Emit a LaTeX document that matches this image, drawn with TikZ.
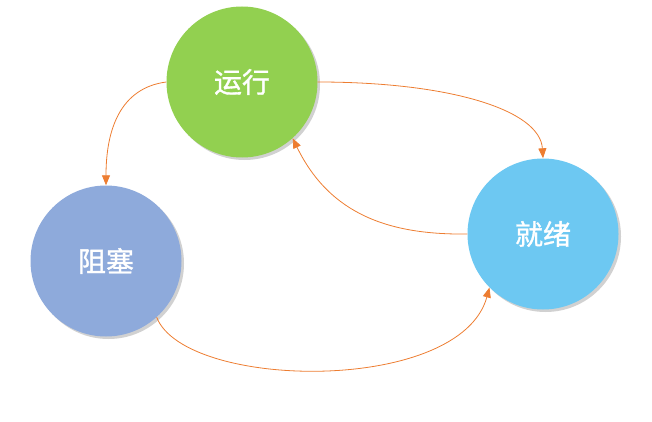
\documentclass[tikz,border=0pt]{standalone}
\usepackage{fontspec}
\newfontfamily\cjk[FakeBold=1.2]{Noto Sans CJK SC}
\usetikzlibrary{shadows,arrows.meta}
\definecolor{cgreen}{HTML}{92D050}
\definecolor{cblue}{HTML}{8EAADB}
\definecolor{csky}{HTML}{6DC8F2}
\definecolor{corange}{HTML}{ED7D31}
\begin{document}
\begin{tikzpicture}[x=1pt,y=-1pt,
  state/.style={circle, minimum size=151pt, inner sep=0pt, text=white,
    font=\cjk\fontsize{28}{32}\selectfont,
    drop shadow={shadow xshift=2.5pt, shadow yshift=-2.5pt, opacity=0.3, fill=black!60}},
  conn/.style={draw=corange, line width=0.8pt, -{Triangle[length=10pt,width=8pt]}}]
\useasboundingbox (0,0) rectangle (652,422);
\node[state, fill=cgreen] (run) at (242,82) {运行};
\node[state, fill=cblue] (block) at (106,261) {阻塞};
\node[state, fill=csky] (ready) at (543,234) {就绪};
\draw[conn] (run.180) .. controls (120,88) and (106,130) .. (block.90);
\draw[conn] (run.0) .. controls (450,82) and (540,110) .. (ready.90);
\draw[conn] (ready.180) .. controls (390,235) and (330,215) .. (run.-48);
\draw[conn] (block.-48) .. controls (185,390) and (460,395) .. (ready.-135);
\end{tikzpicture}
\end{document}
